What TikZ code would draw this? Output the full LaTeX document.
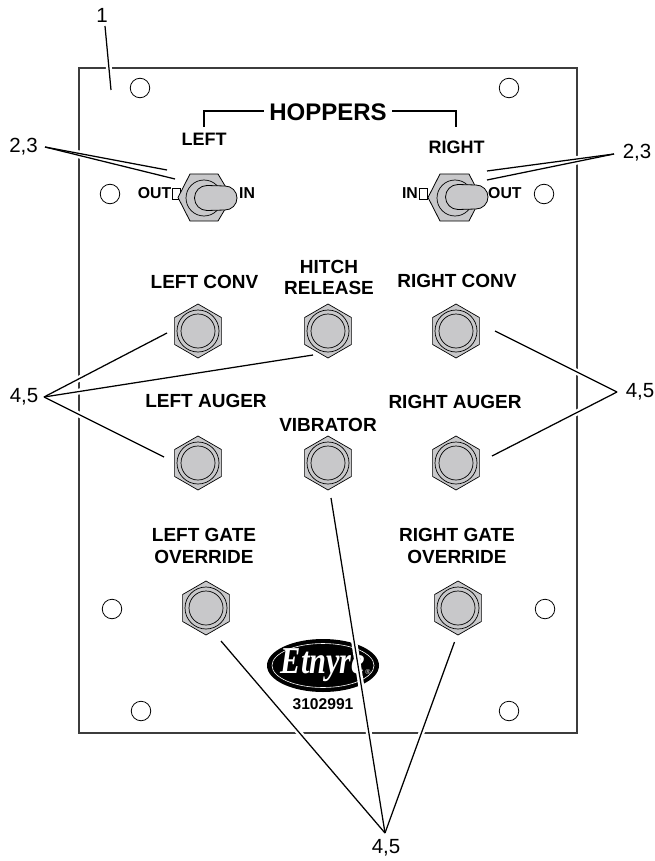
\documentclass[tikz,border=0pt]{standalone}
\usepackage{fontspec}
\setmainfont{Liberation Sans}
\newfontfamily\logofont{Liberation Serif}
\usetikzlibrary{shapes.geometric}
\definecolor{nutgray}{HTML}{C8C8CA}
\definecolor{framegray}{HTML}{3C3C3C}
\newcommand{\fs}[1]{\fontsize{#1}{#1}\selectfont}
\tikzset{
  plate/.style={draw=framegray,line width=1.1pt,fill=white},
  hole/.style={circle,draw=black,line width=.8pt,fill=white,minimum size=19.5pt,inner sep=0pt},
  nutbody/.style={regular polygon,regular polygon sides=6,shape border rotate=30,minimum size=54pt,inner sep=0pt,outer sep=0pt,draw=black,line width=.7pt,fill=nutgray},
  nutring/.style={circle,draw=black,line width=.7pt,fill=nutgray,inner sep=0pt,minimum size=#1},
  lbl/.style={font=\bfseries\fs{19},align=center,inner sep=0pt,text=black},
  swlbl/.style={font=\bfseries\fs{15.8},inner sep=0pt},
  num/.style={font=\fs{20.5},inner sep=0pt},
  lead/.style={draw=black,line width=1.25pt},
  halo/.style={draw=white,line width=6pt},
  brace/.style={draw=black,line width=1.5pt},
  smallbox/.style={draw=black,line width=.7pt,fill=white},
  switchpart/.style={draw=black,line width=.8pt,fill=nutgray},
  logoblack/.style={ellipse,fill=black,inner sep=0pt,minimum width=112pt,minimum height=53pt},
  logoring/.style={ellipse,draw=white,line width=.6pt,inner sep=0pt,minimum width=102pt,minimum height=44pt},
}
\newcommand{\nut}[3]{%
  \node[nutbody] (#1) at (#2,#3) {};
  \node[nutring=42pt] (#1-a) at (#2,#3) {};
  \node[nutring=34pt] (#1-b) at (#2,#3) {};
}
\begin{document}
\begin{tikzpicture}[x=1pt,y=-1pt]
\useasboundingbox (0,0) rectangle (655,861);
\fill[white] (0,0) rectangle (655,861);
\draw[plate] (79,68) rectangle (577,733);

% mounting holes
\node[hole] (h1) at (140,88) {};
\node[hole] (h2) at (509,88) {};
\node[hole] (h3) at (110,194) {};
\node[hole] (h4) at (544,194) {};
\node[hole] (h5) at (112,609) {};
\node[hole] (h6) at (545,609) {};
\node[hole] (h7) at (141,711) {};
\node[hole] (h8) at (509,711) {};

% hoppers title
\node[font=\bfseries\fs{24},inner sep=0pt] (hoppers) at (328,112) {HOPPERS};
\node[lbl,font=\bfseries\fs{18}] (left) at (204,139) {LEFT};
\node[lbl,font=\bfseries\fs{18}] (right) at (456.5,147) {RIGHT};
\coordinate (bl) at (204,127);
\coordinate (br) at (456,127);
\draw[brace] (bl) -- (204,111) -- (264,111);
\draw[brace] (br) -- (456,111) -- (392,111);

% left toggle
\draw[smallbox] (172.5,188) rectangle (180,199);
\node[swlbl,anchor=east] (lout) at (171.5,193.5) {OUT};
\node[swlbl,anchor=west] (lin) at (239,193.5) {IN};
\draw[switchpart] (178,197.5) -- (190,174) -- (218,174) -- (232,197.5) -- (218,221) -- (190,221) -- cycle;
\node[nutring=36pt] (lring) at (204,198) {};
\draw[switchpart] (207,185.5) -- (225,186) arc[start angle=-90,end angle=90,radius=12] -- (207,210.5) arc[start angle=90,end angle=270,radius=12.5] -- cycle;

% right toggle
\draw[smallbox] (419,188) rectangle (427,199);
\node[swlbl,anchor=east] (rin) at (418,193.5) {IN};
\node[swlbl,anchor=west] (rout) at (488,193.5) {OUT};
\draw[switchpart] (428,197.5) -- (440,174) -- (469,174) -- (481,197.5) -- (469,221) -- (440,221) -- cycle;
\node[nutring=36pt] (rring) at (455,198) {};
\draw[switchpart] (458,184.5) -- (476,185) arc[start angle=-90,end angle=90,radius=12] -- (458,209.5) arc[start angle=90,end angle=270,radius=12.5] -- cycle;

% pushbutton labels
\node[lbl] (t1) at (204.5,282) {LEFT CONV};
\node[lbl] (t2) at (329,277.5) {HITCH\\[2.2pt]RELEASE};
\node[lbl] (t3) at (457,281) {RIGHT CONV};
\node[lbl] (t4) at (206,401) {LEFT AUGER};
\node[lbl] (t5) at (328,425) {VIBRATOR};
\node[lbl] (t6) at (455,402) {RIGHT AUGER};
\node[lbl] (t7) at (204,546) {LEFT GATE\\[2.2pt]OVERRIDE};
\node[lbl] (t8) at (457,546) {RIGHT GATE\\[2.2pt]OVERRIDE};

% pushbuttons
\nut{nlc}{198}{331}
\nut{nhr}{328}{331}
\nut{nrc}{456}{331}
\nut{nla}{198}{463}
\nut{nvb}{328}{463}
\nut{nra}{456}{463}
\nut{nlg}{206}{608}
\nut{nrg}{458}{608}

% logo
\node[logoblack] (logo) at (323,665.5) {};
\node[logoring] (logor) at (323,665.5) {};
\node[text=white,inner sep=0pt] (etn) at (323,665) {\logofont\bfseries\itshape\fs{38}\scalebox{.8}[1]{Etnyre}};
\node[text=white,inner sep=0pt,font=\fs{7}] (reg) at (368,672) {®};
\node[font=\bfseries\fs{15.6},inner sep=0pt] (part) at (323,704) {3102991};

% callout numbers
\node[num] (n1) at (102,15) {1};
\node[num] (n23l) at (23.5,147) {2,3};
\node[num] (n23r) at (637,153) {2,3};
\node[num] (n45l) at (24,397) {4,5};
\node[num] (n45r) at (640,392) {4,5};
\node[num] (n45b) at (386,848) {4,5};

% leader ends
\coordinate (a1) at (105,26);
\coordinate (e1) at (111,90);
\coordinate (a23l) at (45,147);
\coordinate (e23la) at (167,170);
\coordinate (e23lb) at (175,179);
\coordinate (a23r) at (614,154);
\coordinate (e23ra) at (487,171);
\coordinate (e23rb) at (487,180);
\coordinate (a45l) at (44,397);
\coordinate (elc) at (167,333);
\coordinate (ehr) at (313,355);
\coordinate (ela) at (164,457);
\coordinate (a45r) at (617,392);
\coordinate (erc) at (495,331);
\coordinate (era) at (492,456);
\coordinate (a45b) at (385,833);
\coordinate (elg) at (221,641);
\coordinate (evb) at (331,498);
\coordinate (erg) at (454.5,642);

\foreach \st in {halo,lead}{
  \draw[\st] (a1) -- (e1);
  \draw[\st] (a23l) -- (e23la);
  \draw[\st] (a23l) -- (e23lb);
  \draw[\st] (a23r) -- (e23ra);
  \draw[\st] (a23r) -- (e23rb);
  \draw[\st] (a45l) -- (elc);
  \draw[\st] (a45l) -- (ehr);
  \draw[\st] (a45l) -- (ela);
  \draw[\st] (a45r) -- (erc);
  \draw[\st] (a45r) -- (era);
  \draw[\st] (a45b) -- (elg);
  \draw[\st] (a45b) -- (evb);
  \draw[\st] (a45b) -- (erg);
}
\end{tikzpicture}
\end{document}
